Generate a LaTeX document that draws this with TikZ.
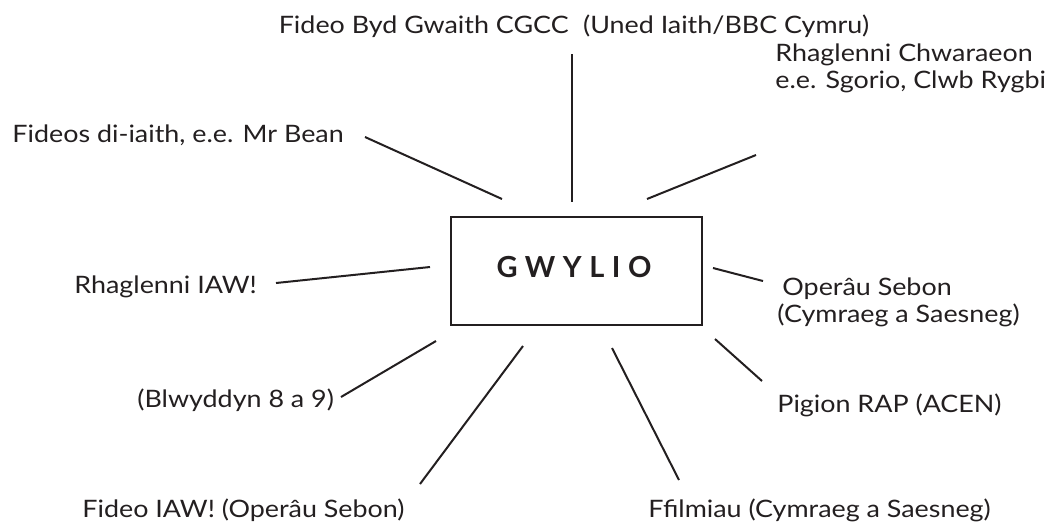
\documentclass[tikz,border=0pt]{standalone}
\usepackage{fontspec}
\setmainfont{Lato}[FakeStretch=1.12]
\newfontfamily\boxfont[LetterSpace=26]{Lato Bold}
\usepackage{xcolor}
\usepackage{tikz}
\usetikzlibrary{positioning}
\definecolor{ink}{HTML}{231F20}
\tikzset{
	lbl/.style={anchor=base west,inner sep=0pt,text=ink,align=left,font=\fontsize{12}{13.5}\selectfont},
	spoke/.style={ink,line width=1pt},
	hub/.style={draw=ink,line width=1pt,minimum width=125.5pt,minimum height=54pt,inner sep=0pt}
}
\begin{document}
\begin{tikzpicture}[x=0.5pt,y=-0.5pt]
	\useasboundingbox (0,0) rectangle (1060,527);
	% centre box
	\node[hub] (gwylio) at (576.5,271) {};
	\node[text=ink,inner sep=0pt,font=\boxfont\fontsize{14.5}{16}\selectfont] (gw) at (574,267.5) {GWYLIO};
	% labels
	\node[lbl,anchor=base] (fideo) at (574,33) {Fideo Byd Gwaith CGCC\hspace{0.6em}(Uned Iaith/BBC Cymru)};
	\node[lbl] (mrbean) at (12,142) {Fideos di-iaith, e.e. Mr Bean};
	\node[lbl] (chwar) at (775,88) {Rhaglenni Chwaraeon\\e.e. Sgorio, Clwb Rygbi};
	\node[lbl] (iaw) at (74,293) {Rhaglenni IAW!};
	\node[lbl] (sebon) at (777,322) {\hspace*{2.5pt}Operâu Sebon\\(Cymraeg a Saesneg)};
	\node[lbl] (blwydd) at (137,407) {(Blwyddyn 8 a 9)};
	\node[lbl] (rap) at (777,412) {Pigion RAP (ACEN)};
	\node[lbl] (fidiaw) at (82,517) {Fideo IAW! (Operâu Sebon)};
	\node[lbl] (ffilm) at (648,517) {Ffilmiau (Cymraeg a Saesneg)};
	% spoke ends
	\coordinate (t1) at (572,54);   \coordinate (t2) at (572,202);
	\coordinate (ul1) at (365,137); \coordinate (ul2) at (502,199);
	\coordinate (ur1) at (647,199); \coordinate (ur2) at (756,155);
	\coordinate (l1) at (276,283);  \coordinate (l2) at (430,267);
	\coordinate (r1) at (713,268);  \coordinate (r2) at (763,281);
	\coordinate (bl1) at (341,397); \coordinate (bl2) at (436,341);
	\coordinate (bb1) at (420,484); \coordinate (bb2) at (523,346);
	\coordinate (br1) at (715,339); \coordinate (br2) at (762,381);
	\coordinate (bm1) at (612,348); \coordinate (bm2) at (679,480);
	\foreach \a/\b in {t1/t2,ul1/ul2,ur1/ur2,l1/l2,r1/r2,bl1/bl2,bb1/bb2,br1/br2,bm1/bm2}
		\draw[spoke] (\a) -- (\b);
\end{tikzpicture}
\end{document}
